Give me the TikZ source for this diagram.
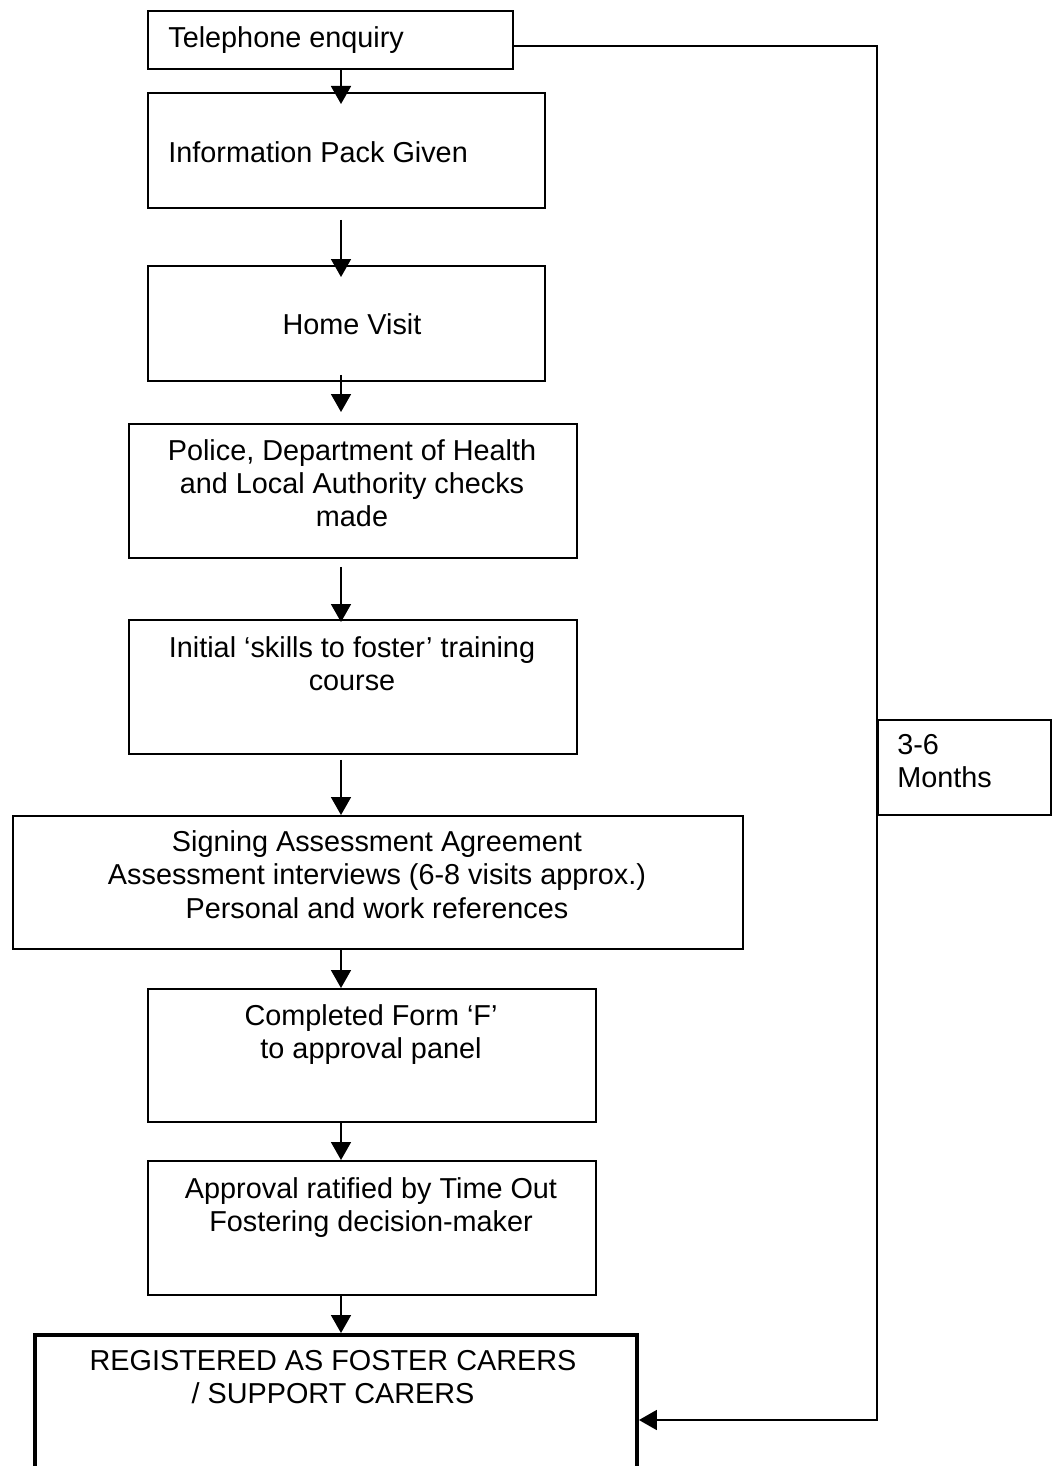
\documentclass[tikz,border=0pt]{standalone}
\usepackage{fontspec}
\setmainfont{Liberation Sans}
\usetikzlibrary{arrows.meta}

\begin{document}
\begin{tikzpicture}[x = 0.02cm, y = -0.02cm,
    stage/.style = {draw, line width = 1pt, inner sep = 0pt, anchor = north west},
    words/.style = {inner sep = 0pt, anchor = north, align = center, font = \fontsize{16.4}{19}\selectfont},
    flow/.style = {line width = 1pt, -{Triangle[length = 0.36cm, width = 0.4cm]}}]
    \useasboundingbox (0, 0) rectangle (1052, 1466);
    \clip (0, 0) rectangle (1052, 1466);

    % boxes: name / left / top / width / height
    \foreach \name/\x/\y/\w/\h in {tel/147/10/365/58, info/147/92/397/115, home/147/265/397/115,
        checks/128/423/448/134, course/128/619/448/134, assess/12/815/730/133,
        formf/147/988/448/133, ratify/147/1160/448/134, months/877/719/173/95} {
        \node [stage, minimum width = \w*0.02cm, minimum height = \h*0.02cm] (\name) at (\x, \y) {};
    }
    \node [stage, line width = 2.3pt, minimum width = 12.04cm, minimum height = 3cm] (reg) at (33, 1333) {};

    % texts
    \node [words, anchor = north west, align = left] (tel-text) at (168, 26) {Telephone enquiry};
    \node [words, anchor = north west, align = left] (info-text) at (168, 141) {Information Pack Given};
    \node [words] (home-text) at (352, 313) {Home Visit};
    \node [words] (checks-text) at (352, 439) {Police, Department of Health\\and Local Authority checks\\made};
    \node [words] (course-text) at (352, 636) {Initial ‘skills to foster’ training\\course};
    \node [words] (assess-text) at (377, 830) {Signing Assessment Agreement\\Assessment interviews (6-8 visits approx.)\\Personal and work references};
    \node [words] (formf-text) at (371, 1004) {Completed Form ‘F’\\to approval panel};
    \node [words] (ratify-text) at (371, 1177) {Approval ratified by Time Out\\Fostering decision-maker};
    \node [words] (reg-text) at (333, 1350) {REGISTERED AS FOSTER CARERS\\/ SUPPORT CARERS};
    \node [words, anchor = north west, align = left] (months-text) at (897, 734) {3-6\\Months};

    % arrows down the middle
    \coordinate (spine) at (341, 0);
    \draw [flow] (tel.south -| spine) -- ([yshift = -0.24cm]info.north -| spine);
    \draw [flow] ([yshift = -0.22cm]info.south -| spine) -- ([yshift = -0.24cm]home.north -| spine);
    \draw [flow] ([yshift = 0.14cm]home.south -| spine) -- ([yshift = 0.22cm]checks.north -| spine);
    \draw [flow] ([yshift = -0.16cm]checks.south -| spine) -- ([yshift = -0.06cm]course.north -| spine);
    \draw [flow] ([yshift = -0.1cm]course.south -| spine) -- (assess.north -| spine);
    \draw [flow] (assess.south -| spine) -- (formf.north -| spine);
    \draw [flow] (formf.south -| spine) -- (ratify.north -| spine);
    \draw [flow] (ratify.south -| spine) -- (reg.north -| spine);

    % loop round the right side
    \coordinate (corner) at (877, 46);
    \coordinate (back) at (877, 1420);
    \draw [flow] (tel.east |- corner) -- (corner) -- (back) -- (reg.east |- back);
\end{tikzpicture}
\end{document}
